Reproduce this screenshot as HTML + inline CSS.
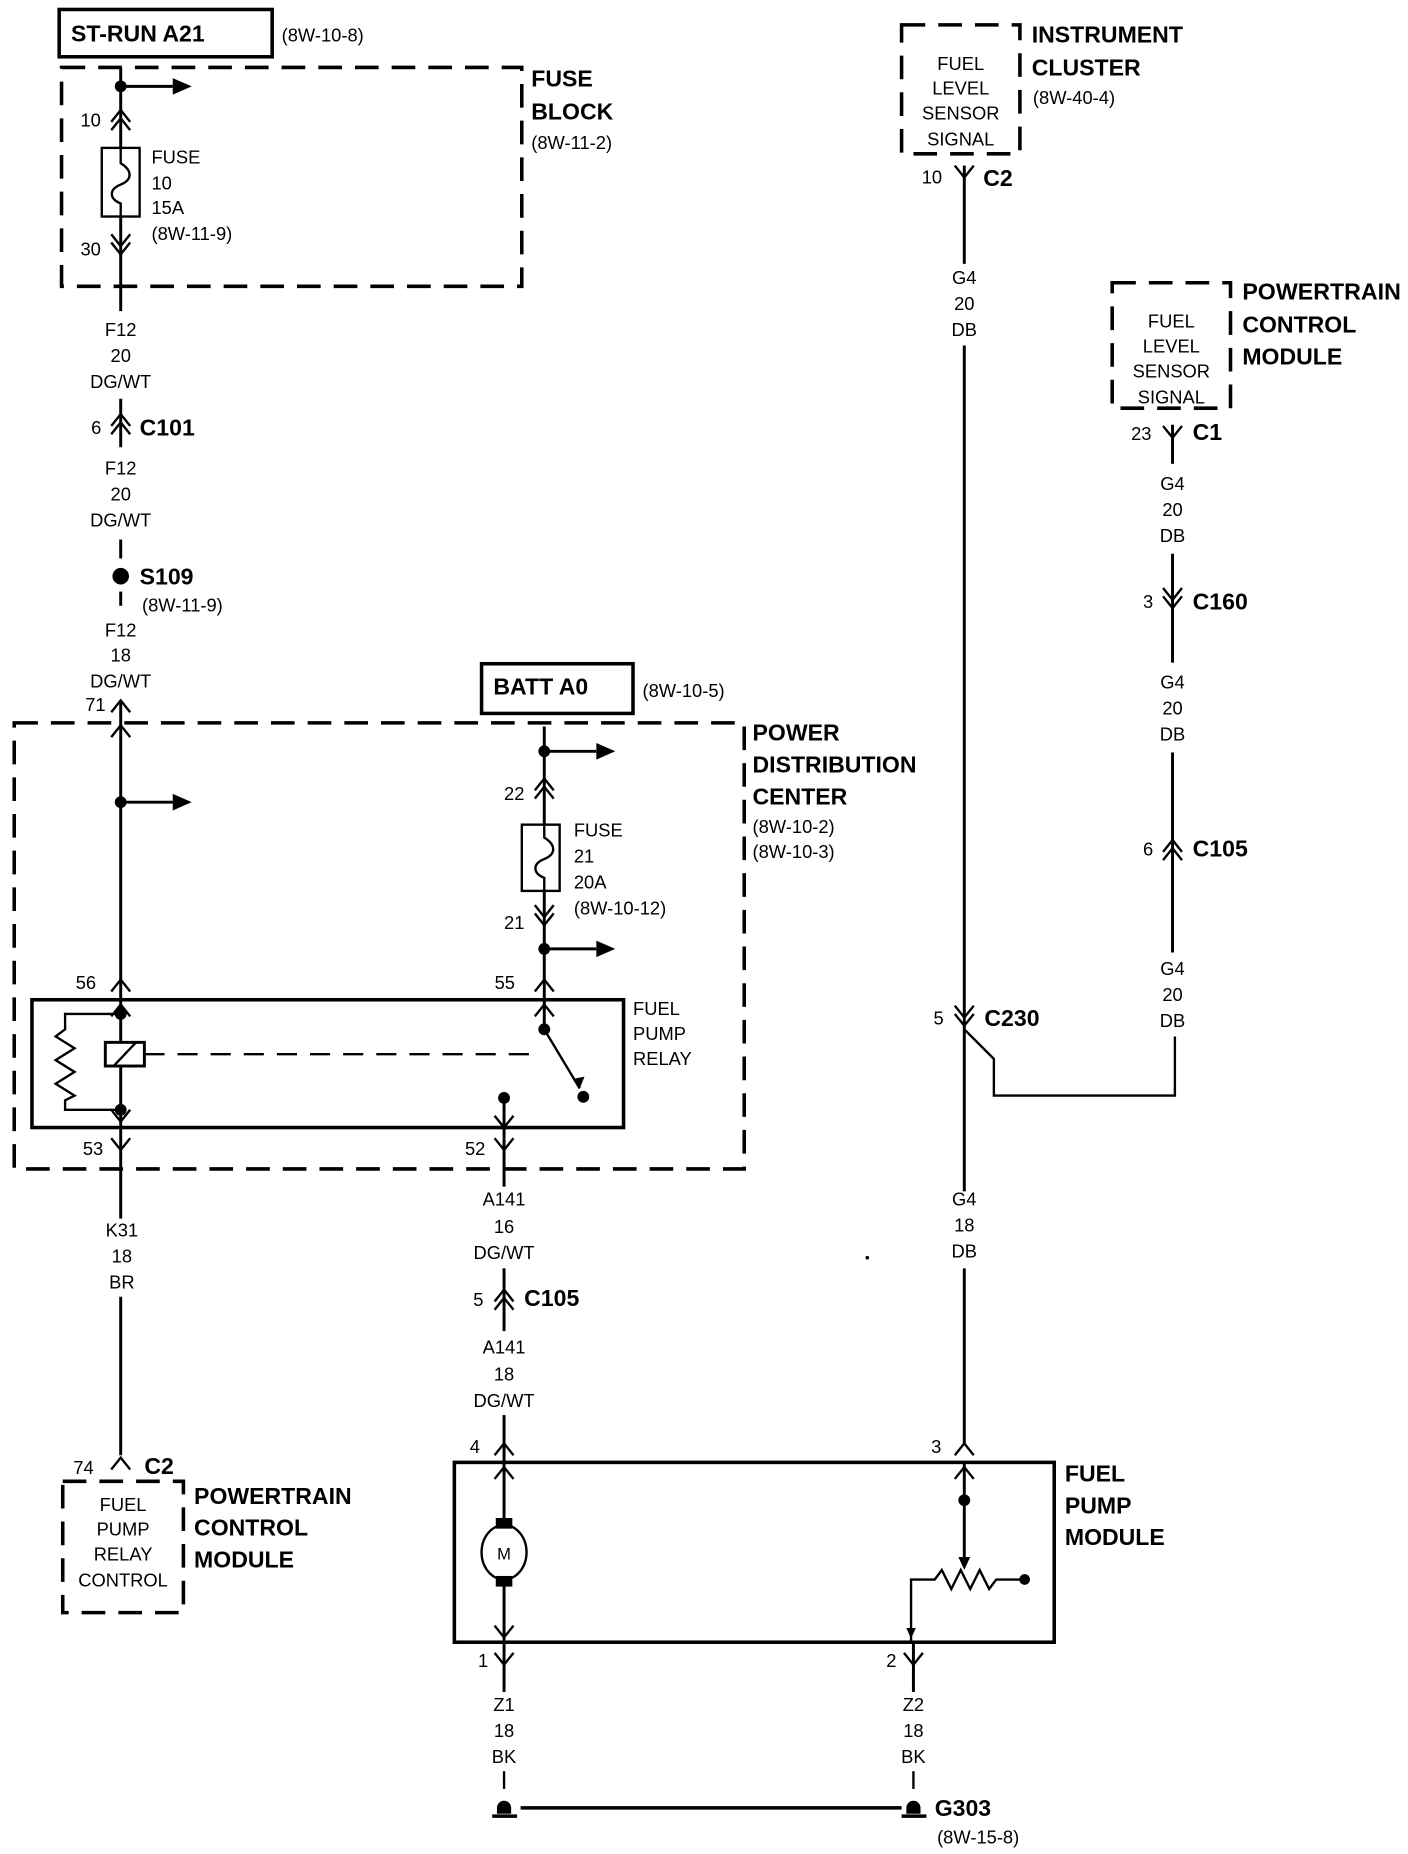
<!DOCTYPE html>
<html><head><meta charset="utf-8"><style>
html,body{margin:0;padding:0;background:#fff;}
svg{display:block}
text{font-family:"Liberation Sans Narrow","Liberation Sans",sans-serif;fill:#000}
.s{font-size:15.5px}
.b{font-size:19.5px;font-weight:bold}
.c{text-anchor:middle}
</style></head><body>
<svg width="1408" height="1854" viewBox="0 0 1190 1567" xmlns="http://www.w3.org/2000/svg">
<defs>
<path id="cu" d="M-8 10 L0 0 L8 10" fill="none" stroke="#000" stroke-width="2"/>
<path id="cd" d="M-8 -10 L0 0 L8 -10" fill="none" stroke="#000" stroke-width="2"/>
<path id="ah" d="M0 -7 L16 0 L0 7 Z" fill="#000"/>
</defs>
<g stroke="#000" fill="none" stroke-width="2.5">
<rect x="50" y="8" width="180" height="40" stroke-width="3"/>
<rect x="52" y="57" width="389" height="185" stroke-width="3" stroke-dasharray="20,11"/>
<line x1="102" y1="57" x2="102" y2="125"/>
<line x1="102" y1="183" x2="102" y2="263"/>
<line x1="102" y1="73" x2="146" y2="73"/>
<rect x="86" y="125" width="32" height="58" stroke-width="2"/>
<path d="M102 125 V138 C112 144,112 152,102 156 C92 160,92 168,102 172 V183" stroke-width="2"/>
<line x1="102" y1="337" x2="102" y2="378"/>
<line x1="102" y1="456" x2="102" y2="472"/>
<line x1="102" y1="500" x2="102" y2="512"/>
<rect x="12" y="611" width="617" height="377" stroke-width="3" stroke-dasharray="20,11"/>
<line x1="102" y1="592" x2="102" y2="845"/>
<line x1="102" y1="678" x2="146" y2="678"/>
<rect x="407" y="561" width="128" height="42" stroke-width="3"/>
<line x1="460" y1="614" x2="460" y2="697"/>
<line x1="460" y1="753" x2="460" y2="845"/>
<line x1="460" y1="635" x2="504" y2="635"/>
<line x1="460" y1="802" x2="504" y2="802"/>
<rect x="441" y="697" width="32" height="56" stroke-width="2"/>
<path d="M460 697 V708 C470 714,470 722,460 726 C450 730,450 738,460 742 V753" stroke-width="2"/>
<rect x="27" y="845" width="500" height="108" stroke-width="3"/>
<line x1="102" y1="845" x2="102" y2="953"/>
<path d="M102 857 H55 V870 L47 876 L63 886 L47 896 L63 906 L47 916 L63 926 L55 930 V938 H102" stroke-width="2"/>
<rect x="89" y="881" width="33" height="20" fill="#fff" stroke-width="2.5"/>
<line x1="96" y1="901" x2="115" y2="881" stroke-width="2"/>
<line x1="122" y1="891" x2="458" y2="891" stroke-dasharray="17,11" stroke-width="2"/>
<line x1="460" y1="845" x2="460" y2="870"/>
<line x1="460" y1="870" x2="490" y2="920" stroke-width="2"/>
<line x1="426" y1="928" x2="426" y2="962"/>
<line x1="102" y1="953" x2="102" y2="1030"/>
<line x1="102" y1="1096" x2="102" y2="1230"/>
<line x1="426" y1="962" x2="426" y2="1003"/>
<line x1="426" y1="1072" x2="426" y2="1125"/>
<line x1="426" y1="1196" x2="426" y2="1236"/>
<rect x="53" y="1252" width="102" height="111" stroke-width="3" stroke-dasharray="20,11"/>
<rect x="384" y="1236" width="507" height="152" stroke-width="3"/>
<line x1="426" y1="1236" x2="426" y2="1388"/>
<ellipse cx="426" cy="1312" rx="19" ry="23" fill="#fff" stroke-width="2"/>
<line x1="815" y1="1236" x2="815" y2="1318"/>
<path d="M770 1388 V1335 H790 L796 1327 L804 1343 L812 1327 L820 1343 L828 1327 L836 1343 L842 1335 H866" stroke-width="2"/>
<line x1="426" y1="1388" x2="426" y2="1430"/>
<line x1="772" y1="1388" x2="772" y2="1430"/>
<line x1="426" y1="1497" x2="426" y2="1512" stroke-width="2"/>
<line x1="772" y1="1497" x2="772" y2="1512" stroke-width="2"/>
<line x1="440" y1="1528" x2="762" y2="1528" stroke-width="3"/>
<line x1="416" y1="1535" x2="437" y2="1535" stroke-width="3"/>
<line x1="762" y1="1535" x2="783" y2="1535" stroke-width="3"/>
<rect x="762" y="21" width="100" height="109" stroke-width="3" stroke-dasharray="20,11"/>
<line x1="815" y1="140" x2="815" y2="223"/>
<line x1="815" y1="292" x2="815" y2="1007"/>
<line x1="815" y1="1072" x2="815" y2="1220"/>
<path d="M815 870 L840 895 V926 H993 V876" stroke-width="2"/>
<rect x="940" y="239" width="100" height="106" stroke-width="3" stroke-dasharray="20,11"/>
<line x1="991" y1="359" x2="991" y2="392"/>
<line x1="991" y1="468" x2="991" y2="560"/>
<line x1="991" y1="636" x2="991" y2="805"/>
</g>
<g fill="#000">
<circle cx="102" cy="73" r="5"/>
<circle cx="102" cy="487" r="7"/>
<circle cx="102" cy="678" r="5"/>
<circle cx="460" cy="635" r="5"/>
<circle cx="460" cy="802" r="5"/>
<circle cx="102" cy="857" r="5"/>
<circle cx="102" cy="938" r="5"/>
<circle cx="460" cy="870" r="5"/>
<circle cx="493" cy="927" r="5"/>
<circle cx="426" cy="928" r="5"/>
<circle cx="815" cy="1268" r="5"/>
<circle cx="866" cy="1335" r="4.5"/>
<circle cx="733" cy="1063" r="1.5"/>
<rect x="419" y="1283" width="14" height="9"/>
<rect x="419" y="1332" width="14" height="9"/>
<path d="M420 1528 A6 6 0 0 1 432 1528 V1533 H420 Z"/>
<path d="M766 1528 A6 6 0 0 1 778 1528 V1533 H766 Z"/>
<path d="M490 920 L484 912 L494 910 Z"/>
<path d="M815 1327 L810 1316 L820 1316 Z"/>
<path d="M770 1385 L766 1376 L774 1376 Z"/>
</g>
<use href="#ah" x="146" y="73"/>
<use href="#ah" x="146" y="678"/>
<use href="#ah" x="504" y="635"/>
<use href="#ah" x="504" y="802"/>
<use href="#cu" x="102" y="93"/><use href="#cu" x="102" y="100"/>
<use href="#cd" x="102" y="208"/><use href="#cd" x="102" y="215"/>
<use href="#cu" x="102" y="350"/><use href="#cu" x="102" y="357"/>
<use href="#cu" x="102" y="592"/>
<use href="#cu" x="102" y="613"/>
<use href="#cu" x="102" y="828"/>
<use href="#cu" x="102" y="849"/>
<use href="#cd" x="102" y="948"/>
<use href="#cd" x="102" y="972"/>
<use href="#cu" x="460" y="658"/><use href="#cu" x="460" y="665"/>
<use href="#cd" x="460" y="775"/><use href="#cd" x="460" y="782"/>
<use href="#cu" x="460" y="828"/>
<use href="#cu" x="460" y="849"/>
<use href="#cd" x="426" y="953"/>
<use href="#cd" x="426" y="972"/>
<use href="#cu" x="426" y="1090"/><use href="#cu" x="426" y="1097"/>
<use href="#cu" x="426" y="1220"/>
<use href="#cu" x="426" y="1240"/>
<use href="#cd" x="426" y="1384"/>
<use href="#cd" x="426" y="1407"/>
<use href="#cd" x="772" y="1407"/>
<use href="#cu" x="815" y="1220"/>
<use href="#cu" x="815" y="1240"/>
<use href="#cu" x="102" y="1232"/>
<use href="#cd" x="815" y="150"/>
<use href="#cd" x="815" y="860"/><use href="#cd" x="815" y="867"/>
<use href="#cd" x="991" y="370"/>
<use href="#cd" x="991" y="507"/><use href="#cd" x="991" y="514"/>
<use href="#cu" x="991" y="710"/><use href="#cu" x="991" y="717"/>
<text class="b" x="60" y="35">ST-RUN A21</text>
<text class="s" x="238" y="35">(8W-10-8)</text>
<text class="b" x="449" y="73">FUSE</text>
<text class="b" x="449" y="101">BLOCK</text>
<text class="s" x="449" y="126">(8W-11-2)</text>
<text class="s" x="68" y="107">10</text>
<text class="s" x="68" y="216">30</text>
<text class="s" x="128" y="138">FUSE</text>
<text class="s" x="128" y="160">10</text>
<text class="s" x="128" y="181">15A</text>
<text class="s" x="128" y="203">(8W-11-9)</text>
<text class="s c" x="102" y="284">F12</text>
<text class="s c" x="102" y="306">20</text>
<text class="s c" x="102" y="328">DG/WT</text>
<text class="s" x="77" y="367">6</text>
<text class="b" x="118" y="368">C101</text>
<text class="s c" x="102" y="401">F12</text>
<text class="s c" x="102" y="423">20</text>
<text class="s c" x="102" y="445">DG/WT</text>
<text class="b" x="118" y="494">S109</text>
<text class="s" x="120" y="517">(8W-11-9)</text>
<text class="s c" x="102" y="538">F12</text>
<text class="s c" x="102" y="559">18</text>
<text class="s c" x="102" y="581">DG/WT</text>
<text class="s" x="72" y="601">71</text>
<text class="b" x="417" y="587">BATT A0</text>
<text class="s" x="543" y="589">(8W-10-5)</text>
<text class="b" x="636" y="626">POWER</text>
<text class="b" x="636" y="653">DISTRIBUTION</text>
<text class="b" x="636" y="680">CENTER</text>
<text class="s" x="636" y="704">(8W-10-2)</text>
<text class="s" x="636" y="725">(8W-10-3)</text>
<text class="s" x="426" y="676">22</text>
<text class="s" x="485" y="707">FUSE</text>
<text class="s" x="485" y="729">21</text>
<text class="s" x="485" y="751">20A</text>
<text class="s" x="485" y="773">(8W-10-12)</text>
<text class="s" x="426" y="785">21</text>
<text class="s" x="64" y="836">56</text>
<text class="s" x="418" y="836">55</text>
<text class="s" x="535" y="858">FUEL</text>
<text class="s" x="535" y="879">PUMP</text>
<text class="s" x="535" y="900">RELAY</text>
<text class="s" x="70" y="976">53</text>
<text class="s" x="393" y="976">52</text>
<text class="s c" x="103" y="1045">K31</text>
<text class="s c" x="103" y="1067">18</text>
<text class="s c" x="103" y="1089">BR</text>
<text class="s" x="62" y="1246">74</text>
<text class="b" x="122" y="1246">C2</text>
<text class="s c" x="104" y="1277">FUEL</text>
<text class="s c" x="104" y="1298">PUMP</text>
<text class="s c" x="104" y="1319">RELAY</text>
<text class="s c" x="104" y="1341">CONTROL</text>
<text class="b" x="164" y="1271">POWERTRAIN</text>
<text class="b" x="164" y="1298">CONTROL</text>
<text class="b" x="164" y="1325">MODULE</text>
<text class="s c" x="426" y="1019">A141</text>
<text class="s c" x="426" y="1042">16</text>
<text class="s c" x="426" y="1064">DG/WT</text>
<text class="s" x="400" y="1104">5</text>
<text class="b" x="443" y="1104">C105</text>
<text class="s c" x="426" y="1144">A141</text>
<text class="s c" x="426" y="1167">18</text>
<text class="s c" x="426" y="1189">DG/WT</text>
<text class="s" x="397" y="1228">4</text>
<text class="s" x="787" y="1228">3</text>
<text class="b" x="900" y="1252">FUEL</text>
<text class="b" x="900" y="1279">PUMP</text>
<text class="b" x="900" y="1306">MODULE</text>
<text class="c" x="426" y="1318" style="font-size:14px">M</text>
<text class="s" x="404" y="1409">1</text>
<text class="s" x="749" y="1409">2</text>
<text class="s c" x="426" y="1446">Z1</text>
<text class="s c" x="426" y="1468">18</text>
<text class="s c" x="426" y="1490">BK</text>
<text class="s c" x="772" y="1446">Z2</text>
<text class="s c" x="772" y="1468">18</text>
<text class="s c" x="772" y="1490">BK</text>
<text class="b" x="790" y="1535">G303</text>
<text class="s" x="792" y="1558">(8W-15-8)</text>
<text class="s c" x="812" y="59">FUEL</text>
<text class="s c" x="812" y="80">LEVEL</text>
<text class="s c" x="812" y="101">SENSOR</text>
<text class="s c" x="812" y="123">SIGNAL</text>
<text class="b" x="872" y="36">INSTRUMENT</text>
<text class="b" x="872" y="64">CLUSTER</text>
<text class="s" x="873" y="88">(8W-40-4)</text>
<text class="s" x="779" y="155">10</text>
<text class="b" x="831" y="157">C2</text>
<text class="s c" x="815" y="240">G4</text>
<text class="s c" x="815" y="262">20</text>
<text class="s c" x="815" y="284">DB</text>
<text class="s" x="789" y="866">5</text>
<text class="b" x="832" y="867">C230</text>
<text class="s c" x="815" y="1019">G4</text>
<text class="s c" x="815" y="1041">18</text>
<text class="s c" x="815" y="1063">DB</text>
<text class="s c" x="990" y="277">FUEL</text>
<text class="s c" x="990" y="298">LEVEL</text>
<text class="s c" x="990" y="319">SENSOR</text>
<text class="s c" x="990" y="341">SIGNAL</text>
<text class="b" x="1050" y="253" textLength="134" lengthAdjust="spacingAndGlyphs">POWERTRAIN</text>
<text class="b" x="1050" y="281">CONTROL</text>
<text class="b" x="1050" y="308">MODULE</text>
<text class="s" x="956" y="372">23</text>
<text class="b" x="1008" y="372">C1</text>
<text class="s c" x="991" y="414">G4</text>
<text class="s c" x="991" y="436">20</text>
<text class="s c" x="991" y="458">DB</text>
<text class="s" x="966" y="514">3</text>
<text class="b" x="1008" y="515">C160</text>
<text class="s c" x="991" y="582">G4</text>
<text class="s c" x="991" y="604">20</text>
<text class="s c" x="991" y="626">DB</text>
<text class="s" x="966" y="723">6</text>
<text class="b" x="1008" y="724">C105</text>
<text class="s c" x="991" y="824">G4</text>
<text class="s c" x="991" y="846">20</text>
<text class="s c" x="991" y="868">DB</text>
</svg>
</body></html>
